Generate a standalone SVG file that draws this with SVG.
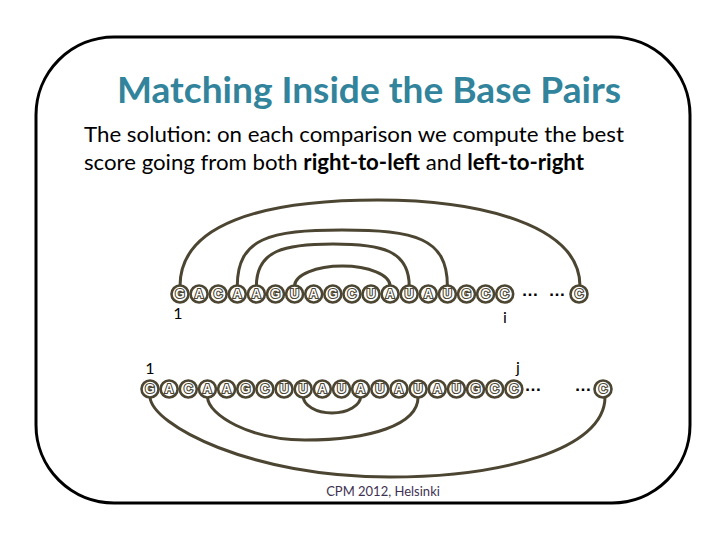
<svg xmlns="http://www.w3.org/2000/svg" width="720" height="540" viewBox="0 0 720 540">
<style>
.frame{fill:#fff;stroke:#000;stroke-width:3}
.title{font-family:Lato,"Open Sans",sans-serif;font-weight:bold;font-size:36px;fill:#31849b}
.body{font-family:Lato,"Open Sans",sans-serif;font-size:22px;fill:#000}
.lbl{font-family:Lato,"Open Sans",sans-serif;font-size:16px;fill:#000}
.foot{font-family:Lato,"Open Sans",sans-serif;font-size:13px;fill:#3f3151;text-anchor:middle}
.arc{fill:none;stroke:#4b4532;stroke-width:3}
.nd circle{fill:#fff;stroke:#4b4532;stroke-width:2.6}
.nd text{font-family:"Liberation Sans",Arial,sans-serif;font-size:12px;font-weight:bold;fill:#fff;stroke:#4b4532;stroke-width:2.2;paint-order:stroke;text-anchor:middle}
.dots{font-family:"Liberation Sans",Arial,sans-serif;font-size:17px;font-weight:bold;fill:#000;text-anchor:middle}
</style>
<rect class="frame" x="36" y="37" width="654" height="466" rx="78" ry="78"/>
<text class="title" x="117" y="103" textLength="504" lengthAdjust="spacingAndGlyphs">Matching Inside the Base Pairs</text>
<text class="body" x="84" y="142" textLength="540" lengthAdjust="spacingAndGlyphs">The solution: on each comparison we compute the best</text>
<text class="body" x="84" y="170" textLength="500" lengthAdjust="spacingAndGlyphs">score going from both <tspan font-weight="bold">right-to-left</tspan> and <tspan font-weight="bold">left-to-right</tspan></text>

<g id="connectors">
<path class="arc" d="M180,286 C180,225 260,200 378,200 C480,200 580,225 580,286"/>
<path class="arc" d="M237.3,286 C237.3,238 270,230 342,230 C415,230 447.4,238 447.4,286"/>
<path class="arc" d="M256.4,286 C256.4,250 285,244 333,244 C381,244 409.2,250 409.2,286"/>
<path class="arc" d="M294.6,286 A47.75,20 0 0 1 390.1,286"/>
<path class="arc" d="M150,397 C152,425 250,477 390,477 C500,477 605,450 605,397"/>
<path class="arc" d="M207.5,397 C208,415 250,440 305,440 C370,440 418,425 418.1,397"/>
<path class="arc" d="M303.2,396 A28.7,17 0 0 0 360.7,396"/>
</g>

<g id="top-row" class="nd">
<g id="t0"><circle cx="180" cy="294" r="8.5"/><text x="180" y="298.3">G</text></g>
<g id="t1"><circle cx="199.1" cy="294" r="8.5"/><text x="199.1" y="298.3">A</text></g>
<g id="t2"><circle cx="218.2" cy="294" r="8.5"/><text x="218.2" y="298.3">C</text></g>
<g id="t3"><circle cx="237.3" cy="294" r="8.5"/><text x="237.3" y="298.3">A</text></g>
<g id="t4"><circle cx="256.4" cy="294" r="8.5"/><text x="256.4" y="298.3">A</text></g>
<g id="t5"><circle cx="275.5" cy="294" r="8.5"/><text x="275.5" y="298.3">G</text></g>
<g id="t6"><circle cx="294.6" cy="294" r="8.5"/><text x="294.6" y="298.3">U</text></g>
<g id="t7"><circle cx="313.7" cy="294" r="8.5"/><text x="313.7" y="298.3">A</text></g>
<g id="t8"><circle cx="332.8" cy="294" r="8.5"/><text x="332.8" y="298.3">G</text></g>
<g id="t9"><circle cx="351.9" cy="294" r="8.5"/><text x="351.9" y="298.3">C</text></g>
<g id="t10"><circle cx="371" cy="294" r="8.5"/><text x="371" y="298.3">U</text></g>
<g id="t11"><circle cx="390.1" cy="294" r="8.5"/><text x="390.1" y="298.3">A</text></g>
<g id="t12"><circle cx="409.2" cy="294" r="8.5"/><text x="409.2" y="298.3">U</text></g>
<g id="t13"><circle cx="428.3" cy="294" r="8.5"/><text x="428.3" y="298.3">A</text></g>
<g id="t14"><circle cx="447.4" cy="294" r="8.5"/><text x="447.4" y="298.3">U</text></g>
<g id="t15"><circle cx="466.5" cy="294" r="8.5"/><text x="466.5" y="298.3">G</text></g>
<g id="t16"><circle cx="485.6" cy="294" r="8.5"/><text x="485.6" y="298.3">C</text></g>
<g id="t17"><circle cx="504.7" cy="294" r="8.5"/><text x="504.7" y="298.3">C</text></g>
<g id="t18"><circle cx="579" cy="294" r="8.5"/><text x="579" y="298.3">C</text></g>
</g>
<text class="dots" x="530" y="296">…</text>
<text class="dots" x="557" y="296">…</text>

<g id="bottom-row" class="nd">
<g id="b0"><circle cx="150" cy="389" r="8.5"/><text x="150" y="393.3">G</text></g>
<g id="b1"><circle cx="169.15" cy="389" r="8.5"/><text x="169.15" y="393.3">A</text></g>
<g id="b2"><circle cx="188.3" cy="389" r="8.5"/><text x="188.3" y="393.3">C</text></g>
<g id="b3"><circle cx="207.45" cy="389" r="8.5"/><text x="207.45" y="393.3">A</text></g>
<g id="b4"><circle cx="226.6" cy="389" r="8.5"/><text x="226.6" y="393.3">A</text></g>
<g id="b5"><circle cx="245.75" cy="389" r="8.5"/><text x="245.75" y="393.3">G</text></g>
<g id="b6"><circle cx="264.9" cy="389" r="8.5"/><text x="264.9" y="393.3">C</text></g>
<g id="b7"><circle cx="284.05" cy="389" r="8.5"/><text x="284.05" y="393.3">U</text></g>
<g id="b8"><circle cx="303.2" cy="389" r="8.5"/><text x="303.2" y="393.3">U</text></g>
<g id="b9"><circle cx="322.35" cy="389" r="8.5"/><text x="322.35" y="393.3">A</text></g>
<g id="b10"><circle cx="341.5" cy="389" r="8.5"/><text x="341.5" y="393.3">U</text></g>
<g id="b11"><circle cx="360.65" cy="389" r="8.5"/><text x="360.65" y="393.3">A</text></g>
<g id="b12"><circle cx="379.8" cy="389" r="8.5"/><text x="379.8" y="393.3">U</text></g>
<g id="b13"><circle cx="398.95" cy="389" r="8.5"/><text x="398.95" y="393.3">A</text></g>
<g id="b14"><circle cx="418.1" cy="389" r="8.5"/><text x="418.1" y="393.3">U</text></g>
<g id="b15"><circle cx="437.25" cy="389" r="8.5"/><text x="437.25" y="393.3">A</text></g>
<g id="b16"><circle cx="456.4" cy="389" r="8.5"/><text x="456.4" y="393.3">U</text></g>
<g id="b17"><circle cx="475.55" cy="389" r="8.5"/><text x="475.55" y="393.3">G</text></g>
<g id="b18"><circle cx="494.7" cy="389" r="8.5"/><text x="494.7" y="393.3">C</text></g>
<g id="b19"><circle cx="513.85" cy="389" r="8.5"/><text x="513.85" y="393.3">C</text></g>
<g id="b20"><circle cx="603" cy="389" r="8.5"/><text x="603" y="393.3">C</text></g>
</g>
<text class="dots" x="533" y="391">…</text>
<text class="dots" x="583" y="391">…</text>

<text class="lbl" x="178" y="319" text-anchor="middle">1</text>
<text class="lbl" x="505" y="323" text-anchor="middle">i</text>
<text class="lbl" x="150" y="374" text-anchor="middle">1</text>
<text class="lbl" x="518" y="373" text-anchor="middle">j</text>
<text class="foot" x="383" y="496">CPM 2012, Helsinki</text>
</svg>
